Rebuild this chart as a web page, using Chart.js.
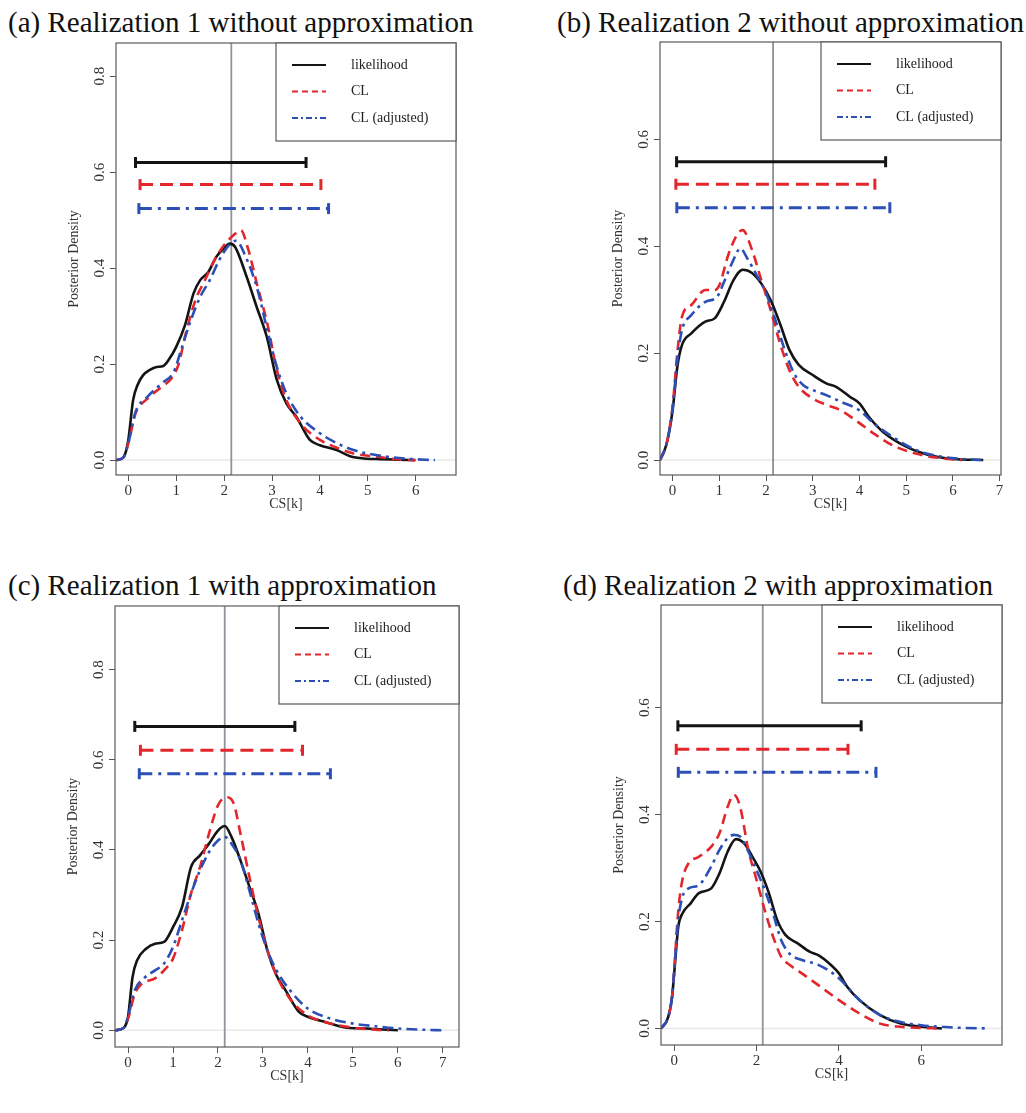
<!DOCTYPE html>
<html>
<head>
<meta charset="utf-8">
<script src="https://cdn.jsdelivr.net/npm/chart.js@4.4.1/dist/chart.umd.min.js"></script>
<style>
  body { margin: 0; background: #fff; width: 1026px; height: 1113px; position: relative; overflow: hidden; font-family: "Liberation Serif", serif; }
  .title { position: absolute; font-size: 29px; color: #111; white-space: nowrap; line-height: 1; }
  canvas { position: absolute; }
</style>
</head>
<body>
<div class="title" style="left:8px;top:8px">(a) Realization 1 without approximation</div>
<div class="title" style="left:557px;top:8px">(b) Realization 2 without approximation</div>
<div class="title" style="left:8px;top:571px">(c) Realization 1 with approximation</div>
<div class="title" style="left:563px;top:571px">(d) Realization 2 with approximation</div>
<canvas id="pa" width="400" height="476" style="left:60px;top:39px"></canvas>
<canvas id="pb" width="401" height="477" style="left:604px;top:38px"></canvas>
<canvas id="pc" width="404" height="485" style="left:59px;top:602px"></canvas>
<canvas id="pd" width="401" height="484" style="left:605px;top:601px"></canvas>
<script>
const seriesNames = ["likelihood", "CL", "CL (adjusted)"];
const trueCS = 2.15;

// posterior densities, [CS[k], density]
const likA = [[-0.25,0],[-0.1,0.006],[0,0.042],[0.1,0.125],[0.2,0.158],[0.31,0.177],[0.45,0.188],[0.59,0.194],[0.73,0.196],[0.85,0.21],[1.0,0.236],[1.18,0.28],[1.36,0.347],[1.5,0.375],[1.67,0.392],[1.84,0.424],[2.0,0.442],[2.12,0.451],[2.23,0.444],[2.47,0.382],[2.68,0.319],[2.89,0.257],[3.1,0.167],[3.3,0.118],[3.51,0.09],[3.79,0.042],[4.0,0.031],[4.35,0.021],[4.63,0.008],[4.98,0.003],[5.25,0.002],[5.6,0.001],[5.98,0]];
const clA = [[-0.25,0],[-0.1,0.006],[0,0.035],[0.15,0.097],[0.4,0.128],[0.7,0.153],[0.9,0.17],[1.05,0.2],[1.2,0.264],[1.4,0.333],[1.6,0.375],[1.8,0.417],[2.0,0.448],[2.2,0.469],[2.35,0.479],[2.5,0.44],[2.7,0.361],[2.9,0.285],[3.1,0.188],[3.3,0.125],[3.6,0.076],[4.0,0.042],[4.3,0.028],[4.7,0.014],[5.2,0.007],[5.7,0.001],[6.0,0]];
const cladjA = [[-0.25,0],[-0.1,0.006],[0,0.035],[0.15,0.1],[0.4,0.132],[0.7,0.16],[0.95,0.184],[1.1,0.229],[1.3,0.29],[1.5,0.34],[1.7,0.375],[1.9,0.417],[2.1,0.448],[2.25,0.457],[2.45,0.424],[2.7,0.354],[2.9,0.271],[3.1,0.194],[3.3,0.139],[3.6,0.09],[4.0,0.056],[4.3,0.038],[4.7,0.021],[5.2,0.01],[5.8,0.003],[6.4,0]];

const likB = [[-0.27,0],[-0.13,0.03],[0,0.093],[0.1,0.174],[0.2,0.215],[0.4,0.237],[0.7,0.259],[0.9,0.265],[1.1,0.296],[1.3,0.336],[1.5,0.356],[1.7,0.35],[1.9,0.33],[2.1,0.299],[2.3,0.255],[2.5,0.206],[2.7,0.178],[3.0,0.159],[3.3,0.143],[3.5,0.137],[3.8,0.118],[4.0,0.106],[4.2,0.081],[4.5,0.053],[5.0,0.025],[5.5,0.009],[6.0,0.002],[6.65,0]];
const clB = [[-0.27,0],[-0.13,0.03],[0,0.1],[0.1,0.2],[0.2,0.268],[0.4,0.29],[0.7,0.318],[0.9,0.318],[1.0,0.327],[1.2,0.386],[1.4,0.424],[1.5,0.43],[1.7,0.393],[1.9,0.336],[2.1,0.28],[2.3,0.218],[2.5,0.168],[2.7,0.137],[3.0,0.115],[3.3,0.103],[3.6,0.093],[4.0,0.069],[4.3,0.05],[4.7,0.028],[5.2,0.012],[5.7,0.004],[6.2,0]];
const cladjB = [[-0.27,0],[-0.13,0.03],[0,0.097],[0.1,0.187],[0.2,0.243],[0.4,0.271],[0.7,0.296],[0.95,0.305],[1.1,0.333],[1.3,0.374],[1.45,0.396],[1.6,0.377],[1.8,0.346],[2.0,0.312],[2.2,0.262],[2.4,0.206],[2.6,0.162],[2.8,0.14],[3.0,0.131],[3.3,0.121],[3.6,0.109],[4.0,0.093],[4.3,0.069],[4.7,0.044],[5.2,0.019],[5.7,0.007],[6.2,0.002],[6.65,0]];

const likC = [[-0.29,0],[-0.1,0.005],[0,0.03],[0.1,0.118],[0.2,0.155],[0.4,0.181],[0.6,0.192],[0.8,0.196],[1.0,0.229],[1.2,0.273],[1.4,0.362],[1.6,0.388],[1.8,0.414],[2.0,0.443],[2.15,0.453],[2.3,0.429],[2.5,0.377],[2.7,0.318],[2.9,0.259],[3.1,0.177],[3.3,0.122],[3.5,0.089],[3.8,0.041],[4.0,0.03],[4.4,0.018],[4.8,0.007],[5.3,0.004],[6.0,0]];
const clC = [[-0.29,0],[-0.1,0.005],[0,0.026],[0.15,0.081],[0.3,0.103],[0.6,0.115],[0.8,0.133],[1.0,0.159],[1.2,0.222],[1.4,0.303],[1.6,0.362],[1.8,0.436],[2.0,0.499],[2.2,0.517],[2.35,0.503],[2.5,0.436],[2.7,0.34],[2.9,0.251],[3.1,0.177],[3.3,0.122],[3.6,0.07],[4.0,0.033],[4.5,0.015],[5.0,0.006],[5.5,0.0015],[5.8,0]];
const cladjC = [[-0.29,0],[-0.1,0.005],[0,0.03],[0.15,0.089],[0.35,0.115],[0.6,0.133],[0.8,0.148],[1.0,0.185],[1.2,0.244],[1.4,0.303],[1.6,0.355],[1.8,0.395],[2.0,0.421],[2.15,0.429],[2.3,0.414],[2.5,0.377],[2.7,0.31],[2.9,0.237],[3.1,0.177],[3.3,0.133],[3.6,0.089],[4.0,0.048],[4.5,0.026],[5.0,0.015],[5.5,0.009],[6.0,0.004],[6.5,0.0015],[7.0,0]];

const likD = [[-0.32,0],[-0.15,0.02],[-0.05,0.06],[0,0.103],[0.1,0.19],[0.2,0.215],[0.4,0.234],[0.6,0.253],[0.9,0.262],[1.1,0.29],[1.3,0.331],[1.5,0.354],[1.7,0.346],[1.9,0.321],[2.1,0.293],[2.3,0.253],[2.5,0.203],[2.7,0.175],[3.0,0.159],[3.3,0.143],[3.5,0.137],[3.8,0.119],[4.0,0.103],[4.2,0.078],[4.5,0.053],[5.0,0.025],[5.5,0.009],[6.0,0.003],[6.5,0]];
const clD = [[-0.32,0],[-0.15,0.02],[-0.05,0.06],[0,0.109],[0.1,0.221],[0.2,0.278],[0.35,0.309],[0.6,0.321],[0.9,0.34],[1.1,0.365],[1.3,0.415],[1.45,0.437],[1.6,0.415],[1.8,0.334],[2.0,0.278],[2.2,0.221],[2.4,0.172],[2.6,0.134],[2.8,0.119],[3.1,0.103],[3.5,0.081],[4.0,0.053],[4.5,0.028],[5.0,0.009],[5.5,0.003],[6.0,0.001],[6.4,0]];
const cladjD = [[-0.32,0],[-0.15,0.02],[-0.05,0.06],[0,0.106],[0.1,0.203],[0.2,0.246],[0.35,0.262],[0.6,0.268],[0.9,0.303],[1.1,0.334],[1.3,0.356],[1.45,0.362],[1.6,0.359],[1.8,0.331],[2.0,0.296],[2.2,0.259],[2.4,0.215],[2.6,0.165],[2.8,0.14],[3.1,0.128],[3.5,0.119],[4.0,0.094],[4.5,0.053],[5.0,0.025],[5.5,0.012],[6.0,0.006],[6.5,0.003],[7.0,0.001],[7.6,0]];

// credible intervals: [lower, upper, drawn at height] for likelihood, CL, CL (adjusted)
const ivA = [[0.15,3.71,0.62],[0.245,4.02,0.574],[0.22,4.18,0.524]];
const ivB = [[0.085,4.56,0.558],[0.07,4.33,0.516],[0.09,4.65,0.472]];
const ivC = [[0.15,3.71,0.674],[0.275,3.88,0.621],[0.25,4.5,0.569]];
const ivD = [[0.09,4.54,0.566],[0.05,4.22,0.522],[0.1,4.9,0.479]];

const xTicksA = [0,1,2,3,4,5,6];
const xTicksB = [0,1,2,3,4,5,6,7];
const xTicksC = [0,1,2,3,4,5,6,7];
const xTicksD = [0,2,4,6];
const yTicksA = [0,0.2,0.4,0.6,0.8];
const yTicksB = [0,0.2,0.4,0.6];
const yTicksC = [0,0.2,0.4,0.6,0.8];
const yTicksD = [0,0.2,0.4,0.6];

const serif = "Liberation Serif";
const styles = [
  { color: "#141414", dash: [], barDash: [], legendDash: [] },
  { color: "#e3262b", dash: [10, 6], barDash: [13, 7], legendDash: [6, 4] },
  { color: "#2c4fb6", dash: [11, 5, 3, 5], barDash: [13, 6, 3, 6], legendDash: [6, 3, 2, 3] },
];

const frame = {
  id: "frame",
  afterDraw(chart) {
    const { ctx, chartArea: a } = chart;
    ctx.save();
    ctx.strokeStyle = "#5a5a5a";
    ctx.lineWidth = 1.2;
    ctx.strokeRect(a.left, a.top, a.right - a.left, a.bottom - a.top);
    // legend box in the top right corner
    const w = 180, h = 98, x0 = a.right - w, y0 = a.top;
    ctx.fillStyle = "#fff";
    ctx.fillRect(x0, y0, w, h);
    ctx.strokeRect(x0, y0, w, h);
    seriesNames.forEach((name, i) => {
      const y = y0 + 22 + i * 26.5;
      ctx.strokeStyle = styles[i].color;
      ctx.lineWidth = 1.8;
      ctx.setLineDash(styles[i].legendDash);
      ctx.beginPath();
      ctx.moveTo(x0 + 16, y);
      ctx.lineTo(x0 + 50, y);
      ctx.stroke();
      ctx.setLineDash([]);
      ctx.fillStyle = "#222";
      ctx.font = "14px " + serif;
      ctx.textBaseline = "middle";
      ctx.fillText(name, x0 + 75, y);
    });
    ctx.restore();
  },
};

function curve(pts, st) {
  return {
    data: pts.map((p) => ({ x: p[0], y: p[1] })),
    borderColor: st.color,
    borderWidth: 2.6,
    borderDash: st.dash,
    pointRadius: 0,
    cubicInterpolationMode: "monotone",
    fill: false,
  };
}

function interval(iv, st) {
  return {
    data: [{ x: iv[0], y: iv[2] }, { x: iv[1], y: iv[2] }],
    borderColor: st.color,
    borderWidth: 3,
    borderDash: st.barDash,
    pointStyle: "line",
    pointRotation: 90,
    pointRadius: 5.5,
    pointBorderWidth: 3,
    pointBorderColor: st.color,
  };
}

function makePanel(id, curves, ivs, xTicks, yTicks, xr, yr, vColor, vWidth) {
  let datasets = [];
  // first dataset is drawn on top
  [2, 1, 0].forEach((i) => datasets.push(curve(curves[i], styles[i])));
  [2, 1, 0].forEach((i) => datasets.push(interval(ivs[i], styles[i])));
  datasets.push({
    data: [{ x: trueCS, y: yr[0] - 1 }, { x: trueCS, y: yr[1] + 1 }],
    borderColor: vColor, borderWidth: vWidth, pointRadius: 0, clip: 0,
  });
  datasets.push({
    data: [{ x: xr[0], y: 0 }, { x: xr[1], y: 0 }],
    borderColor: "#e9e9e9", borderWidth: 1.5, pointRadius: 0, clip: 0,
  });

  new Chart(document.getElementById(id), {
    type: "line",
    data: { datasets: datasets },
    options: {
      responsive: false,
      animation: false,
      events: [],
      layout: { autoPadding: false, padding: { left: 0, right: 4, top: 4, bottom: 0 } },
      plugins: { legend: { display: false }, tooltip: { enabled: false } },
      scales: {
        x: {
          type: "linear",
          min: xr[0],
          max: xr[1],
          afterBuildTicks: (s) => { s.ticks = xTicks.map((v) => ({ value: v })); },
          afterFit: (s) => { s.height = 40; s.paddingLeft = 0; s.paddingRight = 0; },
          border: { display: false },
          grid: { drawOnChartArea: false, tickLength: 6, color: "#555" },
          ticks: { padding: 1, maxRotation: 0, autoSkip: false, color: "#333", font: { family: serif, size: 15 }, callback: (v) => String(v) },
          title: { display: true, text: "CS[k]", color: "#333", font: { family: serif, size: 14 }, padding: { top: 0, bottom: 2 } },
        },
        y: {
          type: "linear",
          min: yr[0],
          max: yr[1],
          afterBuildTicks: (s) => { s.ticks = yTicks.map((v) => ({ value: v })); },
          afterFit: (s) => { s.width = 56; s.paddingTop = 0; s.paddingBottom = 0; },
          border: { display: false },
          grid: { drawOnChartArea: false, tickLength: 6, color: "#555" },
          ticks: { minRotation: 90, maxRotation: 90, crossAlign: "center", padding: 1, autoSkip: false, color: "#333", font: { family: serif, size: 15 }, callback: (v) => v.toFixed(1) },
          title: { display: true, text: "Posterior Density", color: "#333", font: { family: serif, size: 14 }, padding: { top: 6, bottom: 0 } },
        },
      },
    },
    plugins: [frame],
  });
}

makePanel("pa", [likA, clA, cladjA], ivA, xTicksA, yTicksA, [-0.257, 6.84], [-0.031, 0.869], "#8d949c", 1.8);
makePanel("pb", [likB, clB, cladjB], ivB, xTicksB, yTicksB, [-0.27, 7.03], [-0.028, 0.782], "#4a4a4a", 1.1);
makePanel("pc", [likC, clC, cladjC], ivC, xTicksC, yTicksC, [-0.29, 7.36], [-0.037, 0.941], "#8d949c", 1.8);
makePanel("pd", [likD, clD, cladjD], ivD, xTicksD, yTicksD, [-0.32, 7.96], [-0.031, 0.792], "#8d949c", 1.8);
</script>
</body>
</html>
